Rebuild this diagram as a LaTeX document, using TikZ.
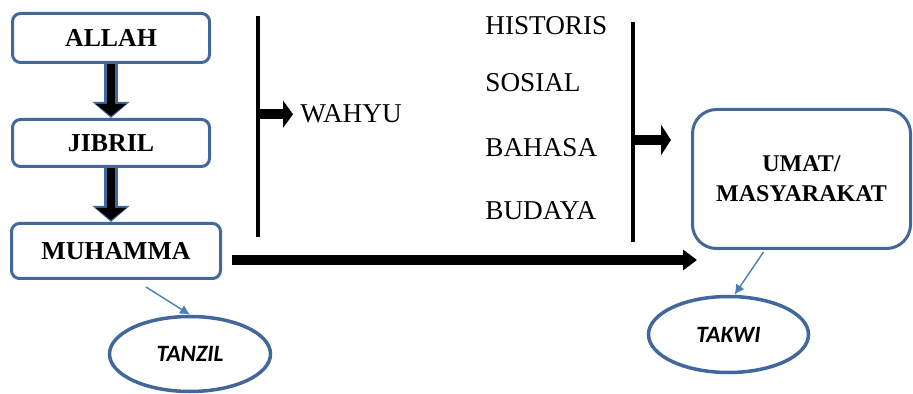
\documentclass[tikz,border=0pt]{standalone}
\usepackage{fontspec}
\setmainfont{Liberation Serif}
\newfontfamily\calibrifont{Carlito}
\usetikzlibrary{arrows.meta,calc,shapes.geometric}
\definecolor{boxblue}{HTML}{41679B}
\definecolor{lineblue}{HTML}{4A7EBB}

\begin{document}
\begin{tikzpicture}[x=0.5pt, y=-0.5pt,
    box/.style={draw=boxblue, line width=1.5pt, rounded corners=4pt, fill=white, inner sep=0pt, font=\fontsize{12.9}{15}\selectfont\bfseries},
    oval/.style={ellipse, draw=boxblue, line width=1.75pt, inner sep=0pt, minimum width=80.5pt, minimum height=37.5pt, font=\fontsize{11.7}{14}\selectfont\calibrifont\bfseries\itshape},
    word/.style={anchor=base west, inner sep=0pt, font=\fontsize{13.6}{16}\selectfont},
    stem/.style={line width=2.4pt},
    fat/.style={line width=5pt, -{Triangle[length=5pt,width=13.5pt]}},
    blockdown/.style={line width=4pt, shorten >=1pt, -{Triangle[length=6pt,width=15pt]},
        preaction={draw=boxblue, line width=7pt, shorten >=0pt, -{Triangle[length=8pt,width=18pt]}}},
    pointer/.style={draw=lineblue, line width=0.7pt, -{Latex[length=5pt,width=5pt]}},
]
\useasboundingbox (0,0) rectangle (913,394);

% chain of revelation
\node[box, minimum width=98.5pt, minimum height=24.5pt] (allah) at (111,38) {ALLAH};
\node[box, minimum width=98.5pt, minimum height=23.5pt] (jibril) at (111,143) {JIBRIL};
\node[box, minimum width=104.5pt, minimum height=27.5pt] (muhamma) at (116,251) {MUHAMMA};
\node[box, rounded corners=12pt, minimum width=109pt, minimum height=69.5pt, align=center,
    font=\fontsize{12}{15}\selectfont\bfseries] (umat) at (801.5,179) {UMAT/\\MASYARAKAT};

\node[oval] (tanzil) at (190,354) {TANZIL};
\node[oval, minimum width=80pt, minimum height=38pt] (takwi) at (728.5,334.5) {TAKWI};

\draw[blockdown] (allah) -- (jibril);
\draw[blockdown] (jibril) -- (jibril |- muhamma.north);

% wahyu bracket
\node[word] (wahyu) at (300,123) {WAHYU};
\coordinate (ltop) at (258,16);
\coordinate (lbot) at (258,237);
\draw[stem] (ltop) -- (lbot);
\draw[fat] (ltop |- wahyu.west) -- ([xshift=-3.5pt]wahyu.west);

% context bracket
\foreach \name/\y in {HISTORIS/35, SOSIAL/92, BAHASA/157, BUDAYA/220} {
    \node[word] (\name) at (485,\y) {\name};
}
\coordinate (rtop) at (633,22);
\coordinate (rbot) at (633,242);
\coordinate (rtip) at (671,140);
\draw[stem] (rtop) -- (rbot);
\draw[fat, -{Triangle[length=5pt,width=15pt]}] (rtop |- rtip) -- (rtip);

\coordinate (longtip) at (697,260);
\draw[fat, -{Triangle[length=7pt,width=10pt]}] ([xshift=4.75pt,yshift=-4.5pt]muhamma.east) -- (longtip);

\draw[pointer] ([xshift=15pt,yshift=-3.5pt]muhamma.south) -- (tanzil.north);
\draw[pointer] ([xshift=-19pt,yshift=-1pt]umat.south) -- ([xshift=3pt]takwi.north);
\end{tikzpicture}
\end{document}
